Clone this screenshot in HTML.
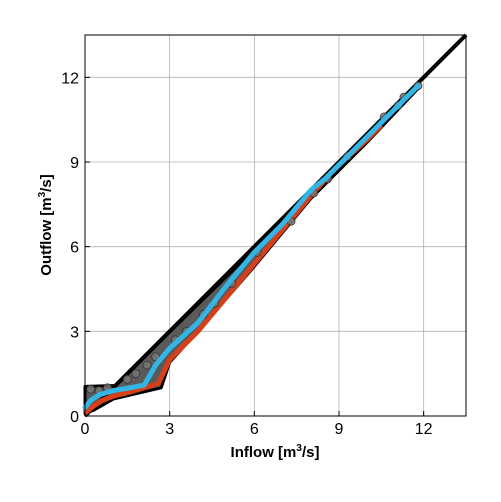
<!DOCTYPE html>
<html><head><meta charset="utf-8"><style>
body{margin:0;background:#fff;font-family:"Liberation Sans",sans-serif}
svg text{font-family:"Liberation Sans",sans-serif}
</style></head><body>
<svg width="501" height="497">
<g id="grid"></g>
<g id="plot"></g>
<rect x="85" y="35" width="381" height="381" fill="none" stroke="#000" stroke-width="1"/>
<g id="ticks"></g>
<text x="275" y="457" text-anchor="middle" font-size="15" font-weight="bold">Inflow [m<tspan font-size="10" dy="-6">3</tspan><tspan dy="6">/s]</tspan></text>
<text transform="translate(51,225) rotate(-90)" text-anchor="middle" font-size="15" font-weight="bold">Outflow [m<tspan font-size="10" dy="-6">3</tspan><tspan dy="6">/s]</tspan></text>
</svg>
<script>
const tickVals=[0,3,6,9,12];
const bandUpper=[[0,1.05],[1.1,1.08],[2,2],[4,3.95],[6,5.9],[8,7.9],[10,9.9],[11.8,11.7]];
const bandLower=[[11.8,11.6],[10,9.7],[8,7.7],[6,5.3],[4,3.0],[3,1.9],[2.7,1.0],[1,0.6],[0.3,0.2],[0,0.1]];
const redX=[0,0.3,0.6,1,1.6,2.6,3,4,5,6,7,8,8.7,9,10,10.5];
const redY=[0.1,0.35,0.55,0.7,0.85,1.15,2.0,3.0,4.2,5.4,6.6,7.8,8.6,8.9,9.8,10.3];
const blueX=[0,0.2,0.5,1,1.6,2.1,2.5,3,4,5,6,7,8,8.5,9,10,11,11.8];
const blueY=[0.3,0.55,0.75,0.9,1.0,1.1,1.8,2.4,3.3,4.6,5.8,6.8,8.0,8.4,8.9,9.9,10.9,11.7];
const dotX=[0.2,0.5,0.8,1.5,1.8,2.2,2.5,3.2,3.6,4.2,4.6,5.2,6.1,7.3,8.1,8.6,9.3,10.6,11.1,11.3,11.8];
const dotY=[0.95,0.9,1.0,1.3,1.5,1.8,2.1,2.7,3.0,3.6,4.0,4.7,5.8,6.9,7.9,8.4,9.2,10.6,11.0,11.3,11.7];
const x=v=>85+v*381/13.5, y=v=>416-v*381/13.5;
const NS="http://www.w3.org/2000/svg";
function mk(t,p,parent){const e=document.createElementNS(NS,t);for(const k in p)e.setAttribute(k,p[k]);parent.appendChild(e);return e;}
const grid=document.getElementById('grid'),ticks=document.getElementById('ticks'),plot=document.getElementById('plot');
tickVals.forEach(v=>{
 if(v>0){
 let g1=mk('line',{x1:x(v),x2:x(v),y1:35,y2:416,stroke:'#b0b0b0','stroke-width':0.8},grid);
 
 let g2=mk('line',{x1:85,x2:466,y1:y(v),y2:y(v),stroke:'#b0b0b0','stroke-width':0.8},grid);
 }
 mk('line',{x1:x(v),x2:x(v),y1:416,y2:411,stroke:'#000'},ticks);
 mk('line',{x1:85,x2:90,y1:y(v),y2:y(v),stroke:'#000'},ticks);
 let tx=mk('text',{x:x(v),y:434,'text-anchor':'middle','font-size':16},ticks);tx.textContent=v;
 
 let ty=mk('text',{x:79,y:y(v)+6,'text-anchor':'end','font-size':16},ticks);ty.textContent=v;
 
});
const band=bandUpper.concat(bandLower).map(p=>x(p[0])+','+y(p[1])).join(' ');
let b=mk('polygon',{points:band,fill:'#5a5a5a',stroke:'#000','stroke-width':3,'stroke-linejoin':'round'},plot);

let l=mk('line',{x1:x(0),y1:y(0),x2:x(13.5),y2:y(13.5),stroke:'#000','stroke-width':4},plot);

let r=mk('polyline',{points:redX.map((v,i)=>x(v)+','+y(redY[i])).join(' '),fill:'none',stroke:'#d5401a','stroke-width':5,'stroke-linejoin':'round'},plot);

dotX.forEach((v,i)=>{
 let c=mk('circle',{cx:x(v),cy:y(dotY[i]),r:4,fill:'#777','fill-opacity':0.8,stroke:'#333','stroke-width':0.8},plot);
 
});
let bl=mk('polyline',{points:blueX.map((v,i)=>x(v)+','+y(blueY[i])).join(' '),fill:'none',stroke:'#33b5e5','stroke-width':5,'stroke-linejoin':'round','stroke-linecap':'round'},plot);

</script>
</body></html>
